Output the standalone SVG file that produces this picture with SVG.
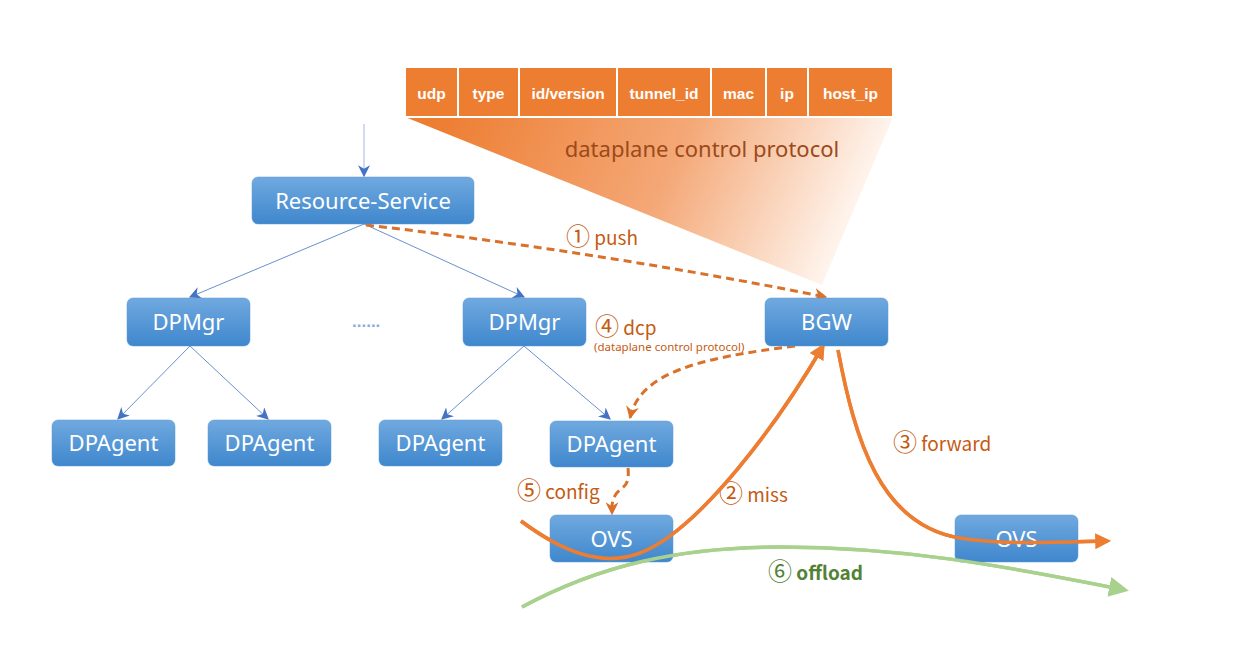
<svg xmlns="http://www.w3.org/2000/svg" width="1256" height="660" viewBox="0 0 1256 660">
<defs>
<linearGradient id="box" x1="0" y1="0" x2="0" y2="1">
<stop offset="0" stop-color="#70A9DF"/>
<stop offset="1" stop-color="#3F87CD"/>
</linearGradient>
<linearGradient id="tri" gradientUnits="userSpaceOnUse" x1="440" y1="110" x2="830" y2="285">
<stop offset="0" stop-color="#ED7D31"/>
<stop offset="0.55" stop-color="#F4A877"/>
<stop offset="1" stop-color="#FFF8F3"/>
</linearGradient>
<marker id="blueArr" viewBox="0 0 10 10" refX="9" refY="5" markerWidth="12" markerHeight="12" markerUnits="userSpaceOnUse" orient="auto">
<path d="M0,0 L10,5 L0,10 L3,5 Z" fill="#4472C4"/>
</marker>
<marker id="orArr" viewBox="0 0 10 10" refX="8" refY="5" markerWidth="16" markerHeight="16" markerUnits="userSpaceOnUse" orient="auto">
<path d="M0,0 L10,5 L0,10 Z" fill="#ED7D31"/>
</marker>
<marker id="orDash" viewBox="0 0 10 10" refX="9" refY="5" markerWidth="13" markerHeight="13" markerUnits="userSpaceOnUse" orient="auto">
<path d="M0,0 L10,5 L0,10 L3,5 Z" fill="#D9712A"/>
</marker>
<marker id="grArr" viewBox="0 0 10 10" refX="8" refY="5" markerWidth="20" markerHeight="20" markerUnits="userSpaceOnUse" orient="auto">
<path d="M0,0 L10,5 L0,10 Z" fill="#A9D18E"/>
</marker>
</defs>
<style>
.node rect{fill:url(#box);stroke:#5B9BD5;stroke-width:0.5}
.node text{font-family:"Noto Sans","DejaVu Sans",sans-serif;font-size:22px;fill:#fff;text-anchor:middle}
.hdr rect{fill:#ED7D31;stroke:#fff;stroke-width:2}
.hdr text{font-family:"Liberation Sans",Arial,sans-serif;font-size:15.5px;font-weight:bold;fill:#fff;text-anchor:middle}
.blue{fill:none;stroke:#4472C4;stroke-width:0.8;marker-end:url(#blueArr)}
.dash{fill:none;stroke:#D9712A;stroke-width:3;stroke-dasharray:8,5;marker-end:url(#orDash)}
.solid{fill:none;stroke:#ED7D31;stroke-width:3.5;marker-end:url(#orArr)}
.lbl{font-family:"Noto Sans CJK SC","Noto Sans",sans-serif;font-size:19px;fill:#C55A11}
.num{font-size:24px;font-weight:normal}
</style>
<g id="header" class="hdr">
<polygon points="405,117 893,117 822,285" fill="url(#tri)" stroke="none"/>
<rect x="405" y="67" width="53" height="50"/><text x="431.5" y="99">udp</text>
<rect x="458" y="67" width="61" height="50"/><text x="488.5" y="99">type</text>
<rect x="519" y="67" width="98" height="50"/><text x="568" y="99">id/version</text>
<rect x="617" y="67" width="94" height="50"/><text x="664" y="99">tunnel_id</text>
<rect x="711" y="67" width="55" height="50"/><text x="738.5" y="99">mac</text>
<rect x="766" y="67" width="42" height="50"/><text x="787" y="99">ip</text>
<rect x="808" y="67" width="85" height="50"/><text x="850.5" y="99">host_ip</text>
<text x="702" y="157" style="font-family:'Noto Sans','DejaVu Sans',sans-serif;font-size:22px;font-weight:normal;fill:#9C4A1A">dataplane control protocol</text>
</g>
<g id="connectors">
<line x1="364" y1="124" x2="364" y2="176" style="fill:none;stroke:#9DB7E4;stroke-width:1;marker-end:url(#blueArr)"/>
<line x1="364" y1="224" x2="190" y2="297" class="blue"/>
<line x1="364" y1="224" x2="524" y2="297" class="blue"/>
<line x1="190" y1="346" x2="118" y2="419" class="blue"/>
<line x1="190" y1="346" x2="268" y2="419" class="blue"/>
<line x1="524" y1="346" x2="442" y2="419" class="blue"/>
<line x1="524" y1="346" x2="610" y2="419" class="blue"/>
<path d="M366,225 Q600,252 826,297" class="dash"/>
<path d="M795,346 C700,358 640,372 630,418" class="dash"/>
<path d="M628,468 C630,488 622,486 616,494 C611,502 612,507 612,514" class="dash"/>
<path d="M521,521 C560,550 600,568 640,553 C700,530 780,420 823,346" class="solid"/>
<path d="M838,350 C855,440 880,525 960,538 C1000,545 1060,542 1108,541" class="solid"/>
<path d="M522,607 C600,565 680,547 780,547 C900,547 1000,565 1125,590" style="fill:none;stroke:#A9D18E;stroke-width:3.5;marker-end:url(#grArr)"/>
<text x="352" y="327" style="font-family:'Liberation Sans',sans-serif;font-size:17px;font-weight:bold;fill:#8FAADC">......</text>
<text x="566" y="245" class="lbl"><tspan class="num">①</tspan> push</text>
<text x="595" y="335" class="lbl"><tspan class="num">④</tspan> dcp</text>
<text x="594" y="351" style="font-family:'Noto Sans','DejaVu Sans',sans-serif;font-size:11.5px;fill:#C55A11">(dataplane control protocol)</text>
<text x="517" y="499" class="lbl"><tspan class="num">⑤</tspan> config</text>
<text x="719" y="502" class="lbl"><tspan class="num">②</tspan> miss</text>
<text x="893" y="451" class="lbl"><tspan class="num">③</tspan> forward</text>
<text x="768" y="580" class="lbl" style="fill:#538135;font-weight:bold"><tspan class="num">⑥</tspan> offload</text>
</g>
<g id="resource-service" class="node"><rect x="252" y="177" width="222" height="47" rx="6"/><text x="363" y="209">Resource-Service</text></g>
<g id="dpmgr1" class="node"><rect x="127" y="298" width="123" height="48" rx="6"/><text x="188.5" y="330">DPMgr</text></g>
<g id="dpmgr2" class="node"><rect x="463" y="298" width="123" height="48" rx="6"/><text x="524.5" y="330">DPMgr</text></g>
<g id="bgw" class="node"><rect x="765" y="298" width="123" height="48" rx="6"/><text x="826.5" y="330">BGW</text></g>
<g id="dpagent1" class="node"><rect x="52" y="420" width="123" height="46" rx="6"/><text x="113.5" y="451">DPAgent</text></g>
<g id="dpagent2" class="node"><rect x="208" y="420" width="123" height="46" rx="6"/><text x="269.5" y="451">DPAgent</text></g>
<g id="dpagent3" class="node"><rect x="379" y="420" width="123" height="46" rx="6"/><text x="440.5" y="451">DPAgent</text></g>
<g id="dpagent4" class="node"><rect x="550" y="421" width="123" height="46" rx="6"/><text x="611.5" y="452">DPAgent</text></g>
<g id="ovs1" class="node"><rect x="550" y="515" width="123" height="47" rx="6"/><text x="611.5" y="547">OVS</text></g>
<g id="ovs2" class="node"><rect x="955" y="515" width="123" height="47" rx="6"/><text x="1016.5" y="547">OVS</text></g>
<g id="overlay">
<path d="M521,521 C560,550 600,568 640,553 C700,530 780,420 823,346" style="fill:none;stroke:#ED7D31;stroke-width:3.5"/>
<path d="M838,350 C855,440 880,525 960,538 C1000,545 1060,542 1108,541" style="fill:none;stroke:#ED7D31;stroke-width:3.5"/>
<path d="M522,607 C600,565 680,547 780,547 C900,547 1000,565 1125,590" style="fill:none;stroke:#A9D18E;stroke-width:3.5"/>
</g>
</svg>
